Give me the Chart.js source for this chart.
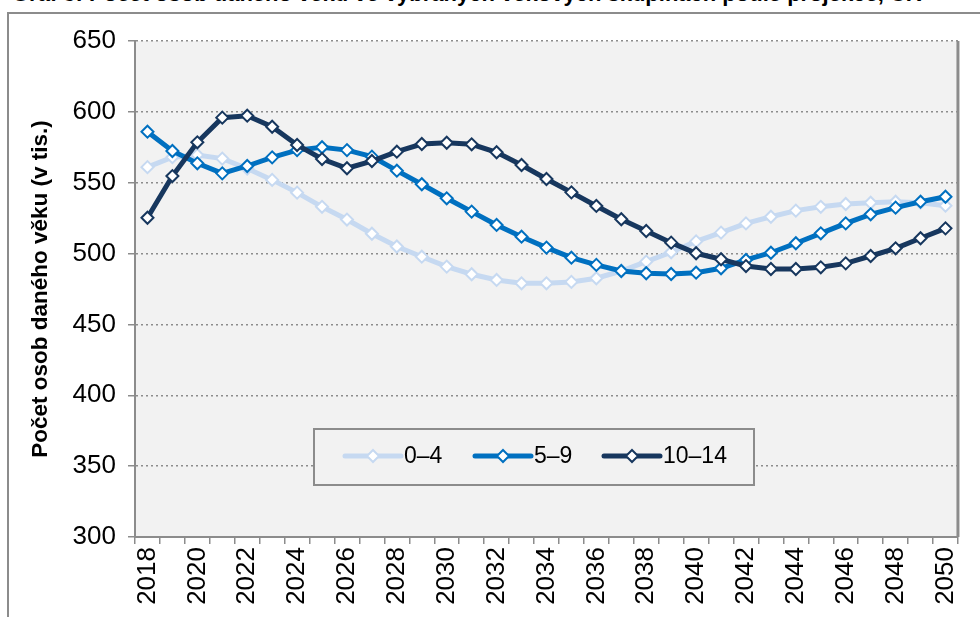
<!DOCTYPE html>
<html>
<head>
<meta charset="utf-8">
<script src="https://cdn.jsdelivr.net/npm/chart.js@4.4.1/dist/chart.umd.min.js"></script>
<style>
  html, body { margin: 0; padding: 0; background: #ffffff; overflow: hidden; }
  #wrap { position: relative; width: 980px; height: 617px; overflow: hidden; }
  #frame { position: absolute; left: 7px; top: 12px; width: 2000px; height: 2000px;
           border-left: 2px solid #8c8c8c; border-top: 2px solid #8c8c8c; }
  #title { position: absolute; left: 12px; top: -19px; white-space: nowrap; line-height: normal;
           font: bold 22px "Liberation Sans", Arial, sans-serif; color: #000; }
  canvas { position: absolute; left: 0; top: 0; }
</style>
</head>
<body>
<div id="wrap">
  <div id="frame"></div>
  <div id="title">Graf 3: Počet osob daného věku ve vybraných věkových skupinách podle projekce, ČR</div>
  <canvas id="c" width="980" height="617"></canvas>
</div>
<script>
const years = ["2018","2019","2020","2021","2022","2023","2024","2025","2026","2027","2028",
  "2029","2030","2031","2032","2033","2034","2035","2036","2037","2038","2039","2040",
  "2041","2042","2043","2044","2045","2046","2047","2048","2049","2050"];

const seriesNames = ["0–4", "5–9", "10–14"];

const age0_4 = [561, 568, 569.5, 567, 560, 552, 543, 533, 524, 514, 505,
  497.8, 490.8, 485.4, 481.4, 479, 479, 480, 482.6, 487.7, 494.3, 500.9, 508.6,
  514.8, 521.3, 526, 530.3, 533, 535, 535.9, 536.6, 535.9, 533.8];

const age5_9 = [586, 572.4, 563.7, 556.6, 561.8, 567.9, 573, 575, 573, 568.4, 558.5,
  548.9, 539, 529.6, 520.2, 511.9, 504.2, 497.1, 492, 487.7, 486.1, 485.6, 486.5,
  489.6, 495.5, 500.6, 507.3, 514.3, 521.3, 527.7, 532.4, 536.6, 540.1];

const age10_14 = [525.3, 554.7, 578.5, 595.9, 597.3, 589.5, 576.6, 566.7, 560.2, 565.3, 571.9,
  577.3, 578.2, 577.1, 571.5, 562.5, 552.6, 543.2, 533.6, 524.2, 515.9, 507.7, 500.2,
  496, 491.2, 489.1, 489.1, 490.3, 493.1, 498.3, 503.7, 510.8, 517.8];

const yTicks = [300, 350, 400, 450, 500, 550, 600, 650];
const yTitle = "Počet osob daného věku (v tis.)";

const colors = ["#c6d9f1", "#0070c0", "#17375e"];
const FONT = "'Liberation Sans', Arial, sans-serif";

function ds(label, data, color, order) {
  return {
    label, data, order,
    borderColor: color, backgroundColor: "#ffffff",
    borderWidth: 5, tension: 0,
    pointStyle: "rectRot", pointRadius: 6, pointHoverRadius: 6,
    pointBorderWidth: 2, pointBorderColor: color, pointBackgroundColor: "#ffffff"
  };
}

const bgPlugin = {
  id: "bg",
  beforeDraw(chart) {
    const {ctx, chartArea: a} = chart;
    ctx.save();
    ctx.fillStyle = "#f2f2f2";
    ctx.fillRect(a.left, a.top, a.right - a.left, a.bottom - a.top);
    ctx.restore();
  },
  afterDraw(chart) {
    const {ctx, chartArea: a} = chart;
    ctx.save();
    ctx.strokeStyle = "#8c8c8c";
    ctx.lineWidth = 3;
    ctx.beginPath();
    ctx.moveTo(a.right, a.top);
    ctx.lineTo(a.right, a.bottom);
    ctx.stroke();
    ctx.restore();
  }
};

const legendPlugin = {
  id: "boxLegend",
  afterDraw(chart) {
    const ctx = chart.ctx;
    const bx = 314, by = 429, bw = 440, bh = 56;
    ctx.save();
    ctx.fillStyle = "#f2f2f2";
    ctx.fillRect(bx, by, bw, bh);
    ctx.strokeStyle = "#8c8c8c";
    ctx.lineWidth = 2;
    ctx.strokeRect(bx, by, bw, bh);
    const starts = [345, 475, 604];
    const cy = by + 27;
    ctx.font = "23px " + FONT;
    ctx.textBaseline = "middle";
    chart.data.datasets.forEach((d, i) => {
      const x0 = starts[i];
      ctx.strokeStyle = d.borderColor;
      ctx.lineWidth = 5;
      ctx.lineCap = "round";
      ctx.beginPath();
      ctx.moveTo(x0, cy);
      ctx.lineTo(x0 + 56, cy);
      ctx.stroke();
      const mx = x0 + 28, r = 6;
      ctx.beginPath();
      ctx.moveTo(mx, cy - r); ctx.lineTo(mx + r, cy); ctx.lineTo(mx, cy + r); ctx.lineTo(mx - r, cy); ctx.closePath();
      ctx.fillStyle = "#ffffff";
      ctx.fill();
      ctx.lineWidth = 2;
      ctx.stroke();
      ctx.fillStyle = "#000000";
      ctx.fillText(d.label, x0 + 59, cy + 1);
    });
    ctx.restore();
  }
};

new Chart(document.getElementById("c"), {
  type: "line",
  data: {
    labels: years,
    datasets: [
      ds(seriesNames[0], age0_4, colors[0], 3),
      ds(seriesNames[1], age5_9, colors[1], 2),
      ds(seriesNames[2], age10_14, colors[2], 1)
    ]
  },
  options: {
    responsive: false,
    animation: false,
    devicePixelRatio: 1,
    layout: { padding: { top: 41, right: 21, left: 0, bottom: 0 } },
    plugins: { legend: { display: false }, tooltip: { enabled: false } },
    scales: {
      x: {
        type: "category",
        offset: true,
        afterFit(s) { s.height = 80; },
        grid: { offset: true, drawOnChartArea: false, drawTicks: true, tickLength: 7, color: "#8c8c8c", lineWidth: 1.5 },
        border: { display: true, color: "#8c8c8c", width: 2 },
        ticks: {
          autoSkip: false, maxRotation: 90, minRotation: 90, padding: 3,
          color: "#000", font: { family: FONT, size: 26 },
          callback(v, i) { return i % 2 === 0 ? years[i] : ""; }
        }
      },
      y: {
        min: yTicks[0], max: yTicks[yTicks.length - 1],
        afterFit(s) { s.width = 135; },
        afterBuildTicks(s) { s.ticks = yTicks.map(v => ({ value: v })); },
        grid: { color: "#8c8c8c", lineWidth: 1.5, drawTicks: true, tickLength: 7, tickColor: "#8c8c8c" },
        border: { display: true, color: "#8c8c8c", width: 2, dash: [2, 3] },
        ticks: { color: "#000", font: { family: FONT, size: 26 }, padding: 12 },
        title: {
          display: true, text: yTitle, color: "#000",
          font: { family: FONT, size: 22.5, weight: "bold" },
          padding: { top: 27, bottom: 0 }
        }
      }
    }
  },
  plugins: [bgPlugin, legendPlugin]
});
</script>
</body>
</html>
